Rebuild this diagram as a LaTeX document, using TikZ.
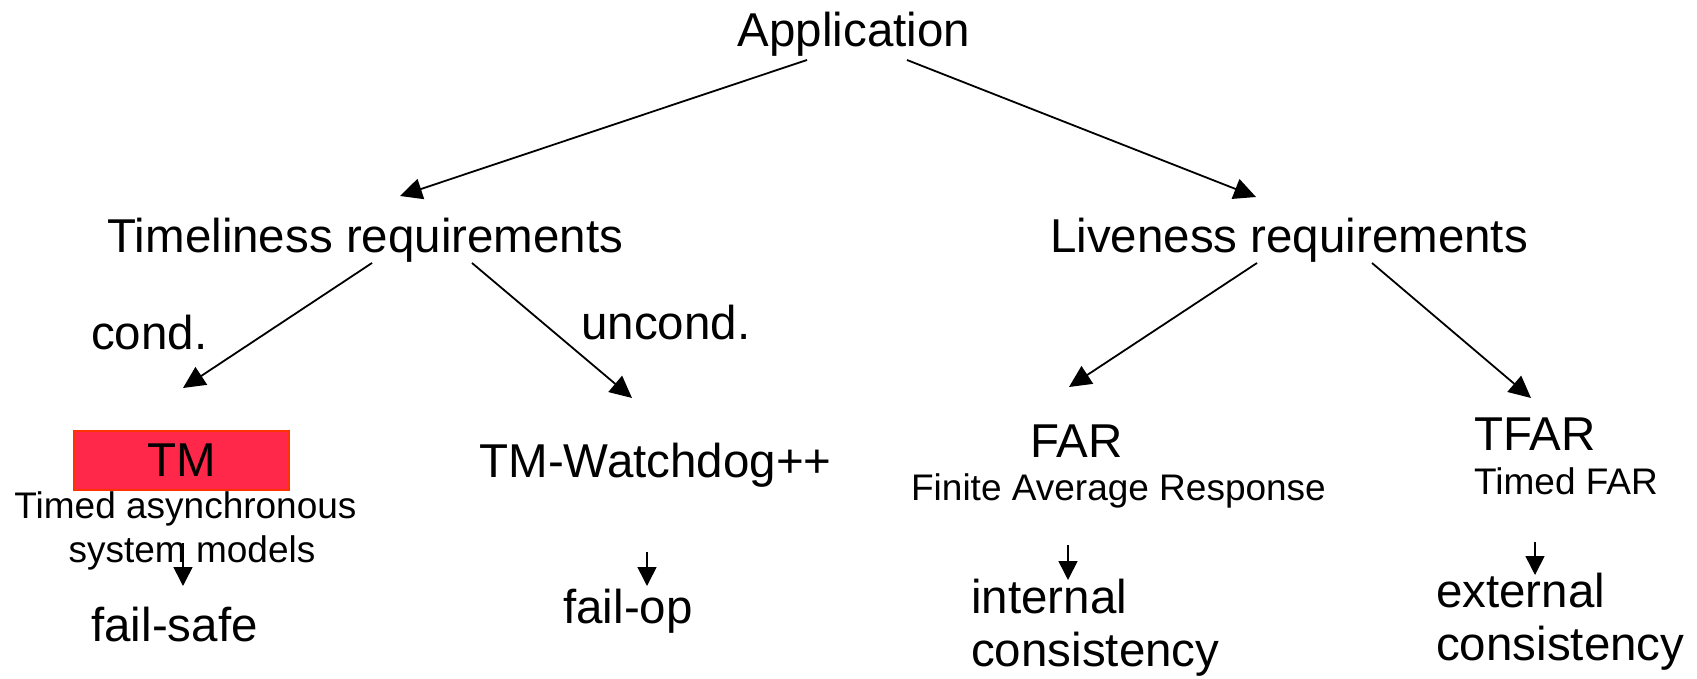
\documentclass[tikz,border=0pt]{standalone}
\usepackage{fontspec}
\setmainfont{Liberation Sans}
\usetikzlibrary{arrows.meta}
\definecolor{tmfill}{RGB}{255,40,75}
\definecolor{tmborder}{RGB}{255,51,0}
\tikzset{
  bigtxt/.style={font=\fontsize{47.5}{57}\selectfont, inner sep=0pt, anchor=base},
  smalltxt/.style={font=\fontsize{37}{44}\selectfont, inner sep=0pt, anchor=base},
  conn/.style={line width=1.8pt, -{Triangle[length=22pt,width=21pt]}},
  tick/.style={line width=1.6pt, -{Triangle[length=19pt,width=19pt]}},
  tmbox/.style={draw=tmborder, fill=tmfill, line width=2pt, inner sep=0pt,
    minimum width=215pt, minimum height=59pt, font=\fontsize{47.5}{57}\selectfont}
}
\begin{document}
\begin{tikzpicture}[x=1pt,y=-1pt]
\useasboundingbox (0,0) rectangle (1697,679);
% nodes
\node[bigtxt] (app) at (854,47) {Application};
\node[bigtxt] (time) at (365.5,252) {Timeliness requirements};
\node[bigtxt] (live) at (1289,252) {Liveness requirements};
\node[bigtxt, anchor=base west] (cond) at (91,349) {cond.};
\node[bigtxt, anchor=base west] (uncond) at (581,339) {uncond.};
\node[tmbox] (tm) at (181.5,460.5) {TM};
\node[smalltxt] (tmsub1) at (185.5,518) {Timed asynchronous};
\node[smalltxt] (tmsub2) at (192,562) {system models};
\node[bigtxt] (fsafe) at (174.5,641) {fail-safe};
\node[bigtxt] (wd) at (655.5,477) {TM-Watchdog++};
\node[bigtxt] (fop) at (628,623) {fail-op};
\node[bigtxt] (far) at (1076.5,457) {FAR};
\node[smalltxt] (farsub) at (1118.5,500) {Finite Average Response};
\node[bigtxt, anchor=base west] (int) at (971,613) {internal};
\node[bigtxt, anchor=base west] (cons1) at (971,666) {consistency};
\node[bigtxt] (tfar) at (1535,450) {TFAR};
\node[smalltxt] (tfarsub) at (1566,494) {Timed FAR};
\node[bigtxt, anchor=base west] (ext) at (1436,607) {external};
\node[bigtxt, anchor=base west] (cons2) at (1436,660) {consistency};
% connector end points
\coordinate (appL) at (807,60);
\coordinate (appR) at (907,60);
\coordinate (timeIn) at (400,196);
\coordinate (liveIn) at (1256,197);
\coordinate (timeL) at (372,263);
\coordinate (timeR) at (472,263);
\coordinate (liveL) at (1257,263);
\coordinate (liveR) at (1372,263);
\coordinate (tmIn) at (183,388);
\coordinate (wdIn) at (632,398);
\coordinate (farIn) at (1069,387);
\coordinate (tfarIn) at (1531,398);
\coordinate (tmOut) at (183,543);
\coordinate (fsafeIn) at (183,586);
\coordinate (wdOut) at (647,552);
\coordinate (fopIn) at (647,586);
\coordinate (farOut) at (1068,545);
\coordinate (intIn) at (1068,580);
\coordinate (tfarOut) at (1535,542);
\coordinate (extIn) at (1535,575);
% connectors
\draw[conn] (appL) -- (timeIn);
\draw[conn] (appR) -- (liveIn);
\draw[conn] (timeL) -- (tmIn);
\draw[conn] (timeR) -- (wdIn);
\draw[conn] (liveL) -- (farIn);
\draw[conn] (liveR) -- (tfarIn);
\draw[tick] (tmOut) -- (fsafeIn);
\draw[tick] (wdOut) -- (fopIn);
\draw[tick] (farOut) -- (intIn);
\draw[tick] (tfarOut) -- (extIn);
\end{tikzpicture}
\end{document}
